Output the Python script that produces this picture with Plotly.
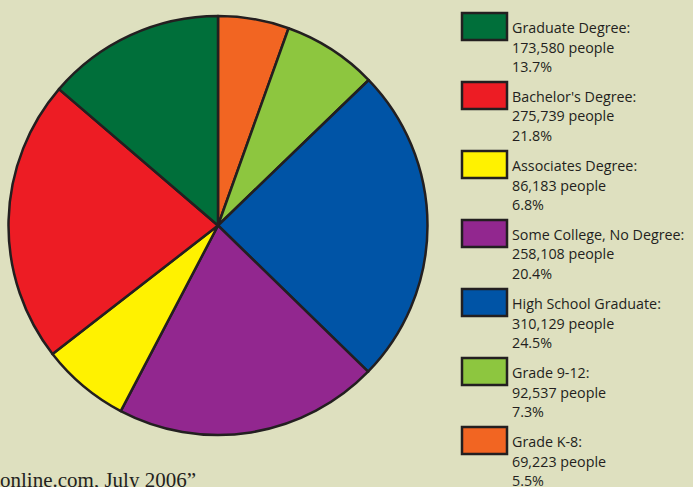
import plotly.graph_objects as go

categories = ["Graduate Degree:", "Bachelor's Degree:", "Associates Degree:",
              "Some College, No Degree:", "High School Graduate:", "Grade 9-12:", "Grade K-8:"]
people = [173580, 275739, 86183, 258108, 310129, 92537, 69223]
people_labels = ["173,580", "275,739", "86,183", "258,108", "310,129", "92,537", "69,223"]
percent_labels = ["13.7%", "21.8%", "6.8%", "20.4%", "24.5%", "7.3%", "5.5%"]
colors = ["#006f3a", "#ed1c24", "#fff200", "#92278f", "#0054a6", "#8dc63f", "#f26522"]

W, H = 693, 487
BG = "#dee0bf"

fig = go.Figure(go.Pie(
    labels=categories[::-1], values=people[::-1], sort=False, direction="clockwise",
    rotation=0, textinfo="none", hoverinfo="label+value+percent",
    marker=dict(colors=colors[::-1], line=dict(color="#231f20", width=2.5)),
    domain=dict(x=[7 / W, 429 / W], y=[1 - 435 / H, 1 - 16 / H]),
    showlegend=False,
))

shapes = []
annotations = []
for i, (c, p, pc, col) in enumerate(zip(categories, people_labels, percent_labels, colors)):
    top = 13 + 69 * i
    shapes.append(dict(type="rect", xref="paper", yref="paper",
                       x0=462 / W, x1=507 / W, y0=1 - (top + 27) / H, y1=1 - top / H,
                       fillcolor=col, line=dict(color="#231f20", width=2.5)))
    for j, t in enumerate([c, p + " people", pc]):
        annotations.append(dict(xref="paper", yref="paper", x=510 / W, y=1 - (top + 14.5 + 19.5 * j) / H,
                                xanchor="left", yanchor="middle", text=t, showarrow=False,
                                font=dict(family="Open Sans", size=14.3, color="#231f20")))

annotations.append(dict(xref="paper", yref="paper", x=198 / W, y=1 - 480 / H,
                        xanchor="right", yanchor="middle", text="online.com, July 2006\u201d",
                        showarrow=False, font=dict(family="Liberation Serif", size=21, color="#231f20")))

fig.update_layout(width=W, height=H, margin=dict(l=0, r=0, t=0, b=0),
                  paper_bgcolor=BG, plot_bgcolor=BG, shapes=shapes, annotations=annotations)
fig.write_html("out.html", config={"displayModeBar": False},
               post_script="document.body.style.margin='0';")
